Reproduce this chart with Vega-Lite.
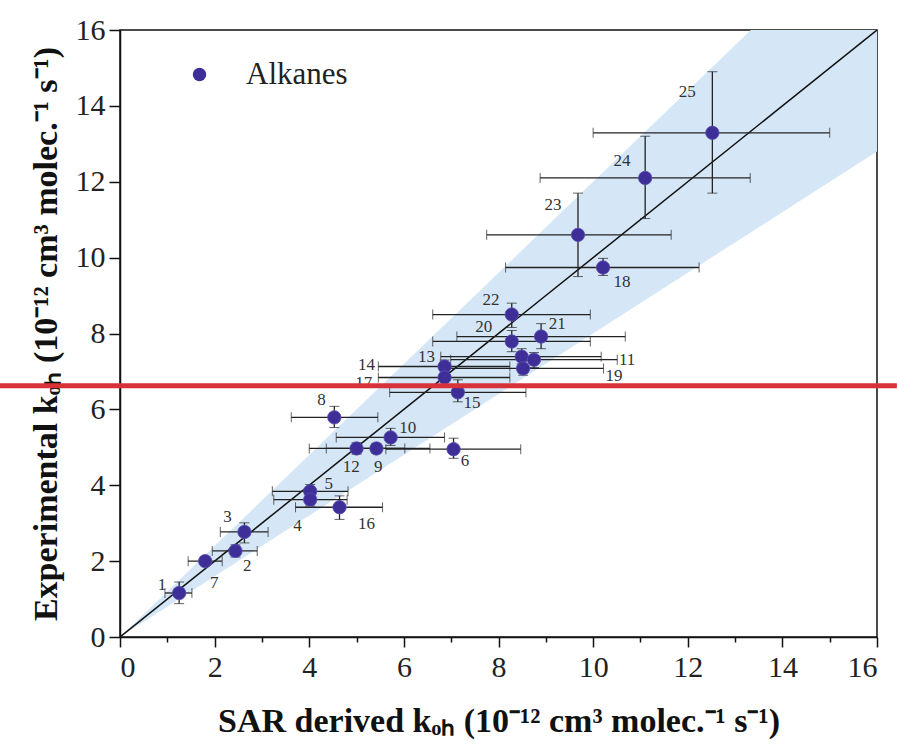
{
  "$schema": "https://vega.github.io/schema/vega-lite/v6.json",
  "width": 757,
  "height": 607,
  "autosize": {"type": "none"},
  "padding": {"left": 120, "top": 30, "right": 20, "bottom": 118},
  "background": "white",
  "config": {
    "view": {"stroke": "#111", "strokeWidth": 1.5},
    "axis": {
      "grid": false,
      "domainColor": "#111",
      "domainWidth": 1.5,
      "tickColor": "#111",
      "tickWidth": 1.5,
      "labelFont": "Liberation Serif",
      "labelFontSize": 30,
      "labelColor": "#222",
      "titleFont": "Liberation Serif",
      "titleFontSize": 34,
      "titleFontWeight": "bold",
      "titleColor": "#111"
    }
  },
  "datasets": {
    "pts": [
      {"id": "1", "series": "Alkanes", "x": 1.25, "y": 1.16, "xlo": 0.95, "xhi": 1.52, "ylo": 0.88, "yhi": 1.45},
      {"id": "7", "series": "Alkanes", "x": 1.8, "y": 2.0, "xlo": 1.44, "xhi": 2.16, "ylo": 1.88, "yhi": 2.12},
      {"id": "2", "series": "Alkanes", "x": 2.44, "y": 2.27, "xlo": 1.95, "xhi": 2.9, "ylo": 2.11, "yhi": 2.43},
      {"id": "3", "series": "Alkanes", "x": 2.63, "y": 2.77, "xlo": 2.12, "xhi": 3.13, "ylo": 2.48, "yhi": 3.01},
      {"id": "5", "series": "Alkanes", "x": 4.02, "y": 3.84, "xlo": 3.22, "xhi": 4.82, "ylo": 3.68, "yhi": 4.02},
      {"id": "4", "series": "Alkanes", "x": 4.02, "y": 3.62, "xlo": 3.25, "xhi": 4.8, "ylo": 3.45, "yhi": 3.8},
      {"id": "16", "series": "Alkanes", "x": 4.64, "y": 3.42, "xlo": 3.71, "xhi": 5.55, "ylo": 3.1, "yhi": 3.72},
      {"id": "12", "series": "Alkanes", "x": 5.0, "y": 4.97, "xlo": 4.0, "xhi": 6.02, "ylo": 4.82, "yhi": 5.12},
      {"id": "9", "series": "Alkanes", "x": 5.42, "y": 4.97, "xlo": 4.36, "xhi": 6.55, "ylo": 4.85, "yhi": 5.1},
      {"id": "6", "series": "Alkanes", "x": 7.05, "y": 4.95, "xlo": 5.62, "xhi": 8.47, "ylo": 4.71, "yhi": 5.24},
      {"id": "10", "series": "Alkanes", "x": 5.72, "y": 5.26, "xlo": 4.57, "xhi": 6.86, "ylo": 5.05, "yhi": 5.5},
      {"id": "8", "series": "Alkanes", "x": 4.53, "y": 5.79, "xlo": 3.62, "xhi": 5.45, "ylo": 5.52, "yhi": 6.08},
      {"id": "15", "series": "Alkanes", "x": 7.14, "y": 6.45, "xlo": 5.7, "xhi": 8.58, "ylo": 6.2, "yhi": 6.78},
      {"id": "14", "series": "Alkanes", "x": 6.86, "y": 7.13, "xlo": 5.46, "xhi": 8.24, "ylo": 6.95, "yhi": 7.3},
      {"id": "17", "series": "Alkanes", "x": 6.86, "y": 6.84, "xlo": 5.46, "xhi": 8.24, "ylo": 6.65, "yhi": 7.0},
      {"id": "13", "series": "Alkanes", "x": 8.49, "y": 7.39, "xlo": 6.78, "xhi": 10.17, "ylo": 7.2, "yhi": 7.6},
      {"id": "11", "series": "Alkanes", "x": 8.75, "y": 7.31, "xlo": 6.99, "xhi": 10.51, "ylo": 7.1, "yhi": 7.5},
      {"id": "19", "series": "Alkanes", "x": 8.52, "y": 7.08, "xlo": 6.82, "xhi": 10.22, "ylo": 6.9, "yhi": 7.28},
      {"id": "20", "series": "Alkanes", "x": 8.28, "y": 7.79, "xlo": 6.61, "xhi": 9.94, "ylo": 7.52, "yhi": 8.08},
      {"id": "21", "series": "Alkanes", "x": 8.9, "y": 7.92, "xlo": 7.12, "xhi": 10.68, "ylo": 7.6, "yhi": 8.26},
      {"id": "22", "series": "Alkanes", "x": 8.28, "y": 8.5, "xlo": 6.61, "xhi": 9.94, "ylo": 8.16, "yhi": 8.8},
      {"id": "18", "series": "Alkanes", "x": 10.21, "y": 9.74, "xlo": 8.15, "xhi": 12.24, "ylo": 9.53, "yhi": 9.98},
      {"id": "23", "series": "Alkanes", "x": 9.68, "y": 10.6, "xlo": 7.75, "xhi": 11.65, "ylo": 9.5, "yhi": 11.7},
      {"id": "24", "series": "Alkanes", "x": 11.1, "y": 12.1, "xlo": 8.88, "xhi": 13.32, "ylo": 11.03, "yhi": 13.2},
      {"id": "25", "series": "Alkanes", "x": 12.52, "y": 13.29, "xlo": 10.0, "xhi": 15.0, "ylo": 11.7, "yhi": 14.9}
    ],
    "labs": [
      {"id": "1", "lx": 0.89, "ly": 1.37},
      {"id": "7", "lx": 1.99, "ly": 1.42},
      {"id": "2", "lx": 2.69, "ly": 1.87},
      {"id": "3", "lx": 2.27, "ly": 3.16},
      {"id": "4", "lx": 3.75, "ly": 2.92},
      {"id": "5", "lx": 4.41, "ly": 4.03},
      {"id": "16", "lx": 5.21, "ly": 2.97},
      {"id": "12", "lx": 4.89, "ly": 4.47},
      {"id": "9", "lx": 5.46, "ly": 4.47},
      {"id": "10", "lx": 6.08, "ly": 5.5},
      {"id": "6", "lx": 7.29, "ly": 4.63},
      {"id": "8", "lx": 4.26, "ly": 6.24},
      {"id": "15", "lx": 7.44, "ly": 6.16},
      {"id": "14", "lx": 5.21, "ly": 7.18},
      {"id": "17", "lx": 5.15, "ly": 6.7},
      {"id": "13", "lx": 6.48, "ly": 7.39},
      {"id": "11", "lx": 10.72, "ly": 7.29},
      {"id": "19", "lx": 10.44, "ly": 6.87},
      {"id": "20", "lx": 7.69, "ly": 8.16},
      {"id": "21", "lx": 9.24, "ly": 8.24},
      {"id": "22", "lx": 7.84, "ly": 8.87},
      {"id": "18", "lx": 10.61, "ly": 9.37},
      {"id": "23", "lx": 9.15, "ly": 11.39},
      {"id": "24", "lx": 10.61, "ly": 12.55},
      {"id": "25", "lx": 11.99, "ly": 14.37}
    ],
    "band": [
      {"x": 0, "lo": 0, "hi": 0},
      {"x": 16, "lo": 12.8, "hi": 19.2}
    ],
    "diag": [
      {"x": 0, "y": 0},
      {"x": 16, "y": 16}
    ]
  },
  "layer": [
    {
      "data": {"name": "band"},
      "mark": {"type": "area", "color": "#d5e7f6", "opacity": 1, "clip": true},
      "encoding": {
        "x": {
          "field": "x", "type": "quantitative",
          "title": "SAR derived kₒₕ (10⁻¹² cm³ molec.⁻¹ s⁻¹)",
          "scale": {"domain": [0, 16], "nice": false, "zero": false},
          "axis": {
            "values": [0, 1, 2, 3, 4, 5, 6, 7, 8, 9, 10, 11, 12, 13, 14, 15, 16],
            "labelExpr": "datum.value % 2 === 0 ? datum.label : ''",
            "tickSize": {"condition": {"test": "datum.value % 2 !== 0", "value": 5}, "value": 10},
            "labelPadding": 5,
            "titlePadding": 22
          }
        },
        "y": {
          "field": "lo", "type": "quantitative",
          "title": "Experimental kₒₕ (10⁻¹² cm³ molec.⁻¹ s⁻¹)",
          "scale": {"domain": [0, 16], "nice": false, "zero": false},
          "axis": {
            "values": [0, 1, 2, 3, 4, 5, 6, 7, 8, 9, 10, 11, 12, 13, 14, 15, 16],
            "labelExpr": "datum.value % 2 === 0 ? datum.label : ''",
            "tickSize": {"condition": {"test": "datum.value % 2 !== 0", "value": 5}, "value": 11},
            "labelPadding": 4,
            "titlePadding": 12
          }
        },
        "y2": {"field": "hi"}
      }
    },
    {
      "data": {"name": "diag"},
      "mark": {"type": "line", "color": "#111", "strokeWidth": 1.5, "clip": true},
      "encoding": {
        "x": {"field": "x", "type": "quantitative", "title": "SAR derived kₒₕ (10⁻¹² cm³ molec.⁻¹ s⁻¹)"},
        "y": {"field": "y", "type": "quantitative", "title": "Experimental kₒₕ (10⁻¹² cm³ molec.⁻¹ s⁻¹)"}
      }
    },
    {
      "data": {"name": "pts"},
      "mark": {"type": "errorbar", "ticks": {"size": 10, "color": "#222", "strokeWidth": 1.3}, "rule": {"color": "#222", "strokeWidth": 1.3}},
      "encoding": {
        "x": {"field": "xlo", "type": "quantitative", "title": "SAR derived kₒₕ (10⁻¹² cm³ molec.⁻¹ s⁻¹)"},
        "x2": {"field": "xhi"},
        "y": {"field": "y", "type": "quantitative", "title": "Experimental kₒₕ (10⁻¹² cm³ molec.⁻¹ s⁻¹)"}
      }
    },
    {
      "data": {"name": "pts"},
      "mark": {"type": "errorbar", "ticks": {"size": 10, "color": "#222", "strokeWidth": 1.3}, "rule": {"color": "#222", "strokeWidth": 1.3}},
      "encoding": {
        "y": {"field": "ylo", "type": "quantitative", "title": "Experimental kₒₕ (10⁻¹² cm³ molec.⁻¹ s⁻¹)"},
        "y2": {"field": "yhi"},
        "x": {"field": "x", "type": "quantitative", "title": "SAR derived kₒₕ (10⁻¹² cm³ molec.⁻¹ s⁻¹)"}
      }
    },
    {
      "data": {"name": "pts"},
      "mark": {"type": "point", "filled": true, "size": 180, "opacity": 1, "stroke": "#5a4fb0", "strokeWidth": 0.8},
      "encoding": {
        "x": {"field": "x", "type": "quantitative", "title": "SAR derived kₒₕ (10⁻¹² cm³ molec.⁻¹ s⁻¹)"},
        "y": {"field": "y", "type": "quantitative", "title": "Experimental kₒₕ (10⁻¹² cm³ molec.⁻¹ s⁻¹)"},
        "color": {
          "field": "series", "type": "nominal",
          "scale": {"range": ["#3d2f97"]},
          "legend": {
            "title": null,
            "orient": "none",
            "legendX": 64,
            "legendY": 29,
            "padding": 0,
            "symbolType": "circle",
            "symbolSize": 180,
            "symbolStrokeWidth": 0,
            "labelFont": "Liberation Serif",
            "labelFontSize": 31,
            "labelColor": "#222",
            "labelOffset": 31
          }
        }
      }
    },
    {
      "data": {"name": "labs"},
      "mark": {"type": "text", "font": "Liberation Serif", "fontSize": 17, "color": "#333", "align": "center", "baseline": "middle"},
      "encoding": {
        "x": {"field": "lx", "type": "quantitative", "title": "SAR derived kₒₕ (10⁻¹² cm³ molec.⁻¹ s⁻¹)"},
        "y": {"field": "ly", "type": "quantitative", "title": "Experimental kₒₕ (10⁻¹² cm³ molec.⁻¹ s⁻¹)"},
        "text": {"field": "id"}
      }
    },
    {
      "data": {"values": [{"k": 1}]},
      "mark": {"type": "rule", "color": "#d7323a", "strokeWidth": 5, "clip": false},
      "encoding": {
        "y": {"datum": 6.62, "type": "quantitative"},
        "x": {"datum": -2.54, "type": "quantitative"},
        "x2": {"datum": 16.42}
      }
    }
  ]
}
